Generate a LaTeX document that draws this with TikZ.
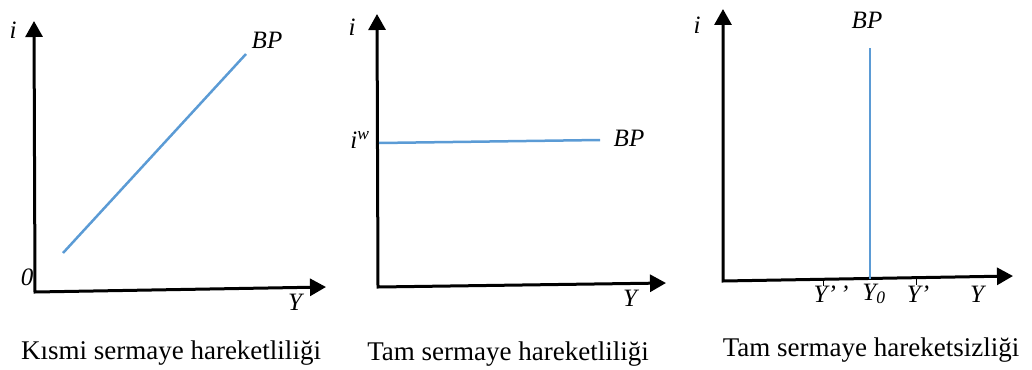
\documentclass[tikz,border=0pt]{standalone}
\usepackage{xcolor}
\usepackage{fontspec}
\setmainfont{Liberation Serif}
\usepackage{tikz}
\usetikzlibrary{arrows.meta}
\definecolor{bpblue}{RGB}{91,155,213}

\begin{document}
\begin{tikzpicture}[x=1pt, y=-1pt,
        every node/.style={font=\fontsize{25}{29}\selectfont\itshape, inner sep=0pt},
        axis/.style={line width=3pt, {Triangle[length=16pt,width=17pt]}-{Triangle[length=16pt,width=17pt]}},
        bpline/.style={bpblue, line width=2.5pt},
        tick/.style={line width=0.8pt},
        caption/.style={font=\fontsize{27}{31}\selectfont}]
        \useasboundingbox (0,0) rectangle (1032,369);
        % Kismi sermaye hareketliligi
        \coordinate (o1) at (35,292);
        \coordinate (itop1) at (34,21);
        \coordinate (yend1) at (326,287);
        \draw[axis] (itop1) -- (o1) -- (yend1);
        \coordinate (bpa1) at (63,253);
        \coordinate (bpb1) at (246,54);
        \draw[bpline] (bpa1) -- (bpb1);
        \node (i1) at (13,30) {i};
        \node (zero1) at (27,277) {0};
        \node (bp1) at (267,40) {BP};
        \node (y1) at (295,302) {Y};
        \node[caption] (cap1) at (171,353) {Kısmi sermaye hareketliliği};
        % Tam sermaye hareketliligi
        \coordinate (o2) at (378,287);
        \coordinate (itop2) at (377,14);
        \coordinate (yend2) at (666,283);
        \draw[axis] (itop2) -- (o2) -- (yend2);
        \coordinate (bpa2) at (379,143);
        \coordinate (bpb2) at (600,140);
        \draw[bpline] (bpa2) -- (bpb2);
        \node (i2) at (352,27) {i};
        \node (iw) at (360,140) {i\textsuperscript{w}};
        \node (bp2) at (629,138) {BP};
        \node (y2) at (630,298) {Y};
        \node[caption] (cap2) at (508,354) {Tam sermaye hareketliliği};
        % Tam sermaye hareketsizligi
        \coordinate (o3) at (723,281);
        \coordinate (itop3) at (723,9);
        \coordinate (yend3) at (1013,276);
        \draw[axis] (itop3) -- (o3) -- (yend3);
        \coordinate (bpa3) at (870,279);
        \coordinate (bpb3) at (870,48);
        \draw[bpline] (bpa3) -- (bpb3);
        \coordinate (t1) at (823,279);
        \coordinate (t2) at (916,278);
        \draw[tick] (t1) -- ++(0,7);
        \draw[tick] (t2) -- ++(0,7);
        \node (i3) at (697,25) {i};
        \node (bp3) at (867,20) {BP};
        \node (ypp) at (831,294) {Y’\,’};
        \node (y0) at (874,294) {Y\textsubscript{0}};
        \node (yp) at (918,294) {Y’};
        \node (y3) at (977,294) {Y};
        \node[caption] (cap3) at (871,350) {Tam sermaye hareketsizliği};
    \end{tikzpicture}
\end{document}
